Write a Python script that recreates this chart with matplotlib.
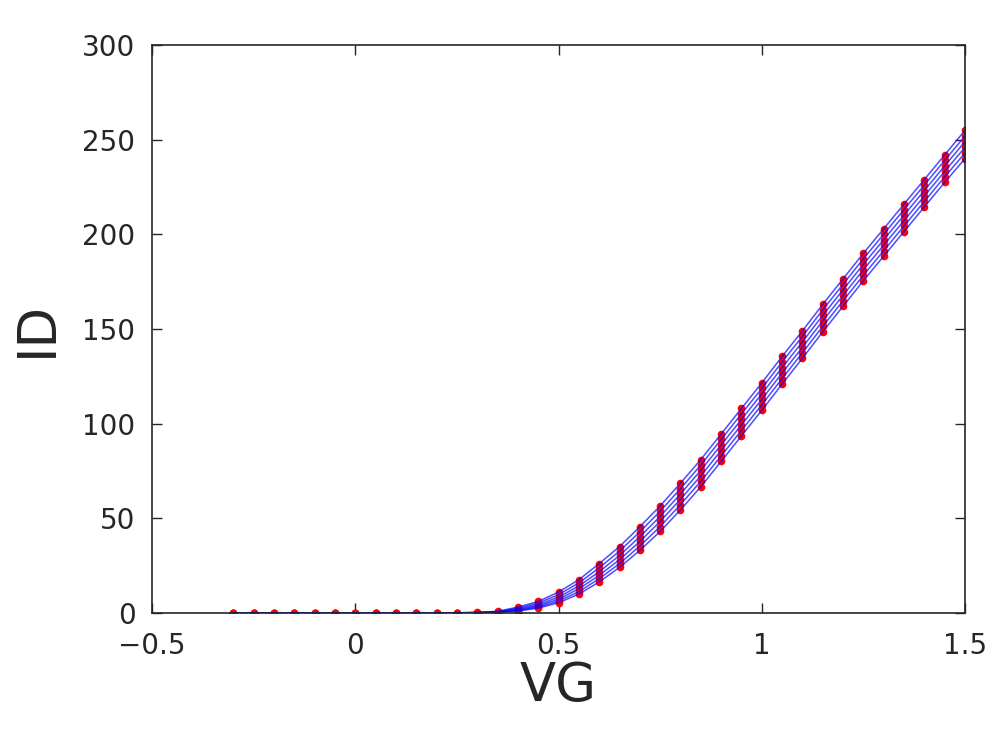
import numpy as np
import matplotlib.pyplot as plt

plt.rcParams['font.family'] = ['DejaVu Sans']

# ゲート電圧
vg = np.round(np.arange(-0.3, 1.5001, 0.05), 2)

zeros = [0.0] * 12  # -0.30 .. 0.25

# ドレイン電流 (読み取り値)
id_1 = zeros + [0.2, 0.8, 3.0, 6.0, 11.0, 17.5, 26.0, 35.0, 45.5, 56.5, 68.5, 81.0, 94.5,
                108.0, 121.5, 135.5, 149.0, 163.0, 176.5, 190.0, 203.0, 216.0, 229.0, 242.0, 255.0]
id_2 = zeros + [0.15, 0.6, 2.4, 5.1, 9.6, 15.8, 23.8, 32.6, 42.8, 53.7, 65.6, 78.1, 91.6,
                105.1, 118.6, 132.6, 146.1, 160.1, 173.6, 187.1, 200.1, 213.1, 226.1, 239.1, 252.0]
id_3 = zeros + [0.1, 0.45, 1.9, 4.3, 8.3, 14.2, 21.7, 30.3, 40.2, 51.0, 62.8, 75.3, 88.7,
                102.2, 115.7, 129.6, 143.2, 157.2, 170.7, 184.2, 197.2, 210.2, 223.2, 236.2, 249.0]
id_4 = zeros + [0.07, 0.35, 1.5, 3.6, 7.2, 12.7, 19.8, 28.1, 37.7, 48.3, 60.0, 72.4, 85.8,
                99.3, 112.8, 126.7, 140.3, 154.3, 167.8, 181.3, 194.3, 207.3, 220.3, 233.3, 246.0]
id_5 = zeros + [0.05, 0.25, 1.2, 3.0, 6.2, 11.2, 18.0, 26.0, 35.3, 45.6, 57.2, 69.5, 82.9,
                96.4, 109.9, 123.8, 137.4, 151.4, 164.9, 178.4, 191.4, 204.4, 217.4, 230.4, 243.0]
id_6 = zeros + [0.03, 0.18, 0.9, 2.5, 5.3, 9.9, 16.3, 24.0, 33.0, 43.0, 54.4, 66.6, 80.0,
                93.5, 107.0, 120.9, 134.5, 148.5, 162.0, 175.5, 188.5, 201.5, 214.5, 227.5, 240.0]

curves = [id_1, id_2, id_3, id_4, id_5, id_6]

fig = plt.figure(figsize=(10.01, 7.41), dpi=100)
ax = fig.add_axes([0.152, 0.173, 0.812, 0.766])

# 測定点 (赤) の上に計算線 (青)
for c in curves:
    ax.plot(vg, c, linestyle='none', marker='o', markersize=5.5,
            color='#ff0000', markeredgewidth=0, zorder=2)
for c in curves:
    ax.plot(vg, c, color='#0000ff', linewidth=1.1, alpha=0.7, zorder=3)

ax.set_xlim(-0.5, 1.5)
ax.set_ylim(0, 300)
ax.set_xticks([-0.5, 0, 0.5, 1, 1.5])
ax.set_xticklabels(['\u22120.5', '0', '0.5', '1', '1.5'])
ax.set_yticks(range(0, 301, 50))

ax.tick_params(direction='in', length=7, width=1.0, labelsize=20, colors='#262626',
               top=True, right=True)
ax.tick_params(axis='y', pad=12)
ax.tick_params(axis='x', pad=14)
for s in ax.spines.values():
    s.set_color('#262626')
    s.set_linewidth(1.2)
    s.set_zorder(4)

ax.set_xlabel('VG', fontsize=38, color='#262626', labelpad=0)
ax.set_ylabel('ID', fontsize=38, color='#262626', labelpad=14)

fig.savefig('out.png', dpi=100)
